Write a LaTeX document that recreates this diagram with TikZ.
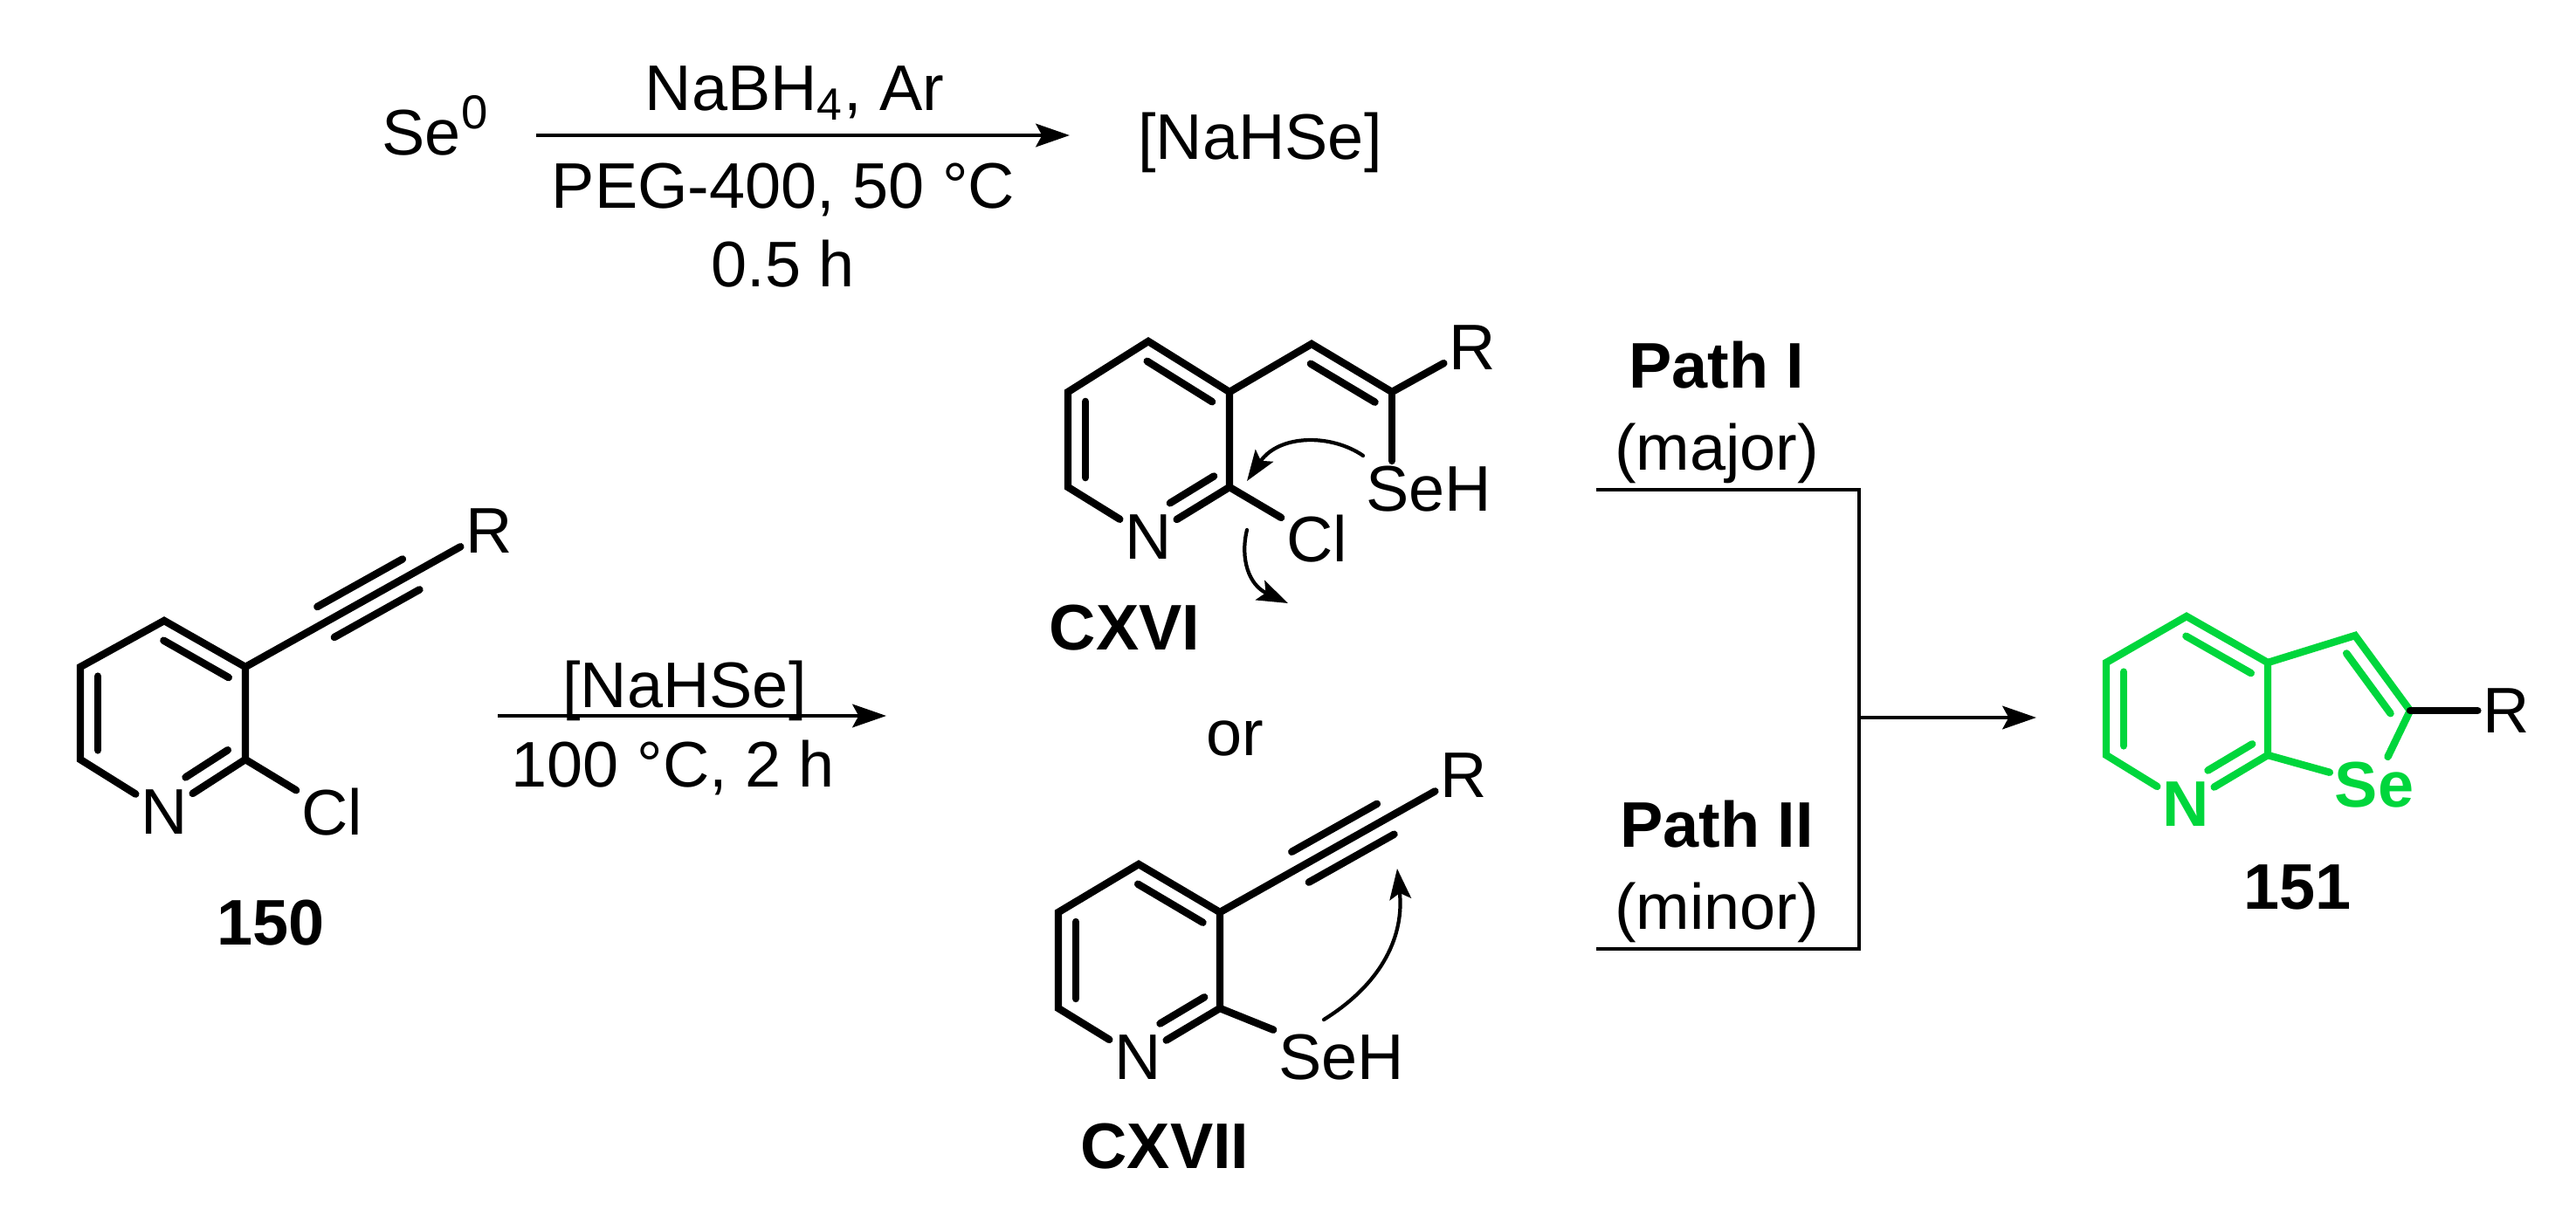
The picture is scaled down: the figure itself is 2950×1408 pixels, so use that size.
\documentclass[tikz,border=0pt]{standalone}
\usepackage{fontspec}
\setmainfont{Liberation Sans}
\usetikzlibrary{calc,arrows.meta}
\definecolor{prodgreen}{RGB}{0,214,60}
\newcommand{\innerbond}[5][black]{\draw[bond,#1] ($(#2)!#4!(#3)!0.2cm!90:(#3)$) -- ($(#2)!#5!(#3)!0.2cm!90:(#3)$);}
\newcommand{\alkyne}[2]{
	\draw[bond] ($(#1)!0.33!(#2)!0.2cm!90:(#2)$) -- ($(#1)!0.68!(#2)!0.2cm!90:(#2)$);
	\draw[bond] ($(#1)!0.33!(#2)!0.2cm!-90:(#2)$) -- ($(#1)!0.68!(#2)!0.2cm!-90:(#2)$);}
\begin{document}
\begin{tikzpicture}[
		x=0.01cm, y=-0.01cm,
		txt/.style={inner sep=0pt, font=\fontsize{21}{25}\selectfont},
		boldtxt/.style={inner sep=0pt, font=\fontsize{21}{25}\selectfont\bfseries},
		atom/.style={txt, inner sep=1.5pt},
		bond/.style={line width=2.4pt, line cap=round, line join=miter},
		rxnline/.style={line width=1.4pt},
		rxnarrow/.style={rxnline, -{Stealth[length=11pt,width=7.5pt,inset=2pt]}},
		pusharrow/.style={line width=1.2pt, line cap=round, -{Stealth[length=10pt,width=7pt,inset=2pt]}}
		]
		\useasboundingbox (0,0) rectangle (2950,1408);

		% reagent step
		\node[txt](se0) at (498,144){Se\raisebox{8.5pt}{\fontsize{15.5}{18}\selectfont 0}};
		\node[txt](hse) at (1443,163){[NaHSe]};
		\node[txt](nabh) at (910,107){NaBH\textsubscript{4}, Ar};
		\node[txt, below of = nabh, xshift = -0.13cm, yshift = -0.1cm](peg){PEG-400, 50 °C};
		\node[txt, below of = peg, yshift = 0.15cm](time){0.5 h};
		\coordinate (a1) at (614,155);
		\coordinate (a2) at (1225,155);
		\draw[rxnarrow] (a1) -- (a2);

		% 150
		\coordinate (t150) at (188,711);
		\coordinate (ur150) at (281,764);
		\coordinate (lr150) at (281,870);
		\coordinate (ll150) at (92,870);
		\coordinate (ul150) at (92,764);
		\node[atom](N150) at (188,930){N};
		\node[atom](Cl150) at (380,930){Cl};
		\node[atom](R150) at (560,608){R};
		\draw[bond] (N150) -- (ll150) -- (ul150) -- (t150) -- (ur150) -- (lr150) -- (N150);
		\draw[bond] (lr150) -- (Cl150);
		\draw[bond] (ur150) -- (R150);
		\alkyne{ur150}{R150}
		\innerbond{ul150}{ll150}{0.1}{0.9}
		\innerbond{ur150}{t150}{0.1}{0.9}
		\innerbond{N150}{lr150}{0.38}{0.9}
		\node[boldtxt](lab150) at (310,1057){150};

		\coordinate (b1) at (570,820);
		\coordinate (b2) at (1015,820);
		\draw[rxnarrow] (b1) -- (b2);
		\node[txt](hse2) at (784,791){[NaHSe]};
		\node[txt, below of = hse2, xshift = -0.13cm, yshift = 0.12cm](cond){100 °C, 2 h};

		% CXVI
		\coordinate (t116) at (1315,391);
		\coordinate (ur116) at (1408,449);
		\coordinate (lr116) at (1408,558);
		\coordinate (ll116) at (1223,558);
		\coordinate (ul116) at (1223,449);
		\coordinate (ch116) at (1502,394);
		\coordinate (c116) at (1594,449);
		\node[atom](N116) at (1315,615){N};
		\node[atom](Cl116) at (1508,617){Cl};
		\node[atom](Se116) at (1636,560){SeH};
		\node[atom](R116) at (1686,398){R};
		\draw[bond] (N116) -- (ll116) -- (ul116) -- (t116) -- (ur116) -- (lr116) -- (N116);
		\draw[bond] (lr116) -- (Cl116);
		\draw[bond] (ur116) -- (ch116) -- (c116) -- (R116);
		\draw[bond] (c116) -- (c116 |- Se116.north);
		\innerbond{ul116}{ll116}{0.1}{0.9}
		\innerbond{ur116}{t116}{0.1}{0.9}
		\innerbond{N116}{lr116}{0.38}{0.92}
		\innerbond{c116}{ch116}{0.1}{0.9}
		\coordinate (p1) at (1561,522);
		\coordinate (p2) at (1428,551);
		\coordinate (p3) at (1428,607);
		\coordinate (p4) at (1475,691);
		\draw[pusharrow] (p1) .. controls (1525,497) and (1465,497) .. (p2);
		\draw[pusharrow] (p3) .. controls (1420,640) and (1430,670) .. (p4);
		\node[boldtxt](lab116) at (1288,719){CXVI};

		\node[txt](or) at (1414,846){or};

		% CXVII
		\coordinate (t117) at (1304,990);
		\coordinate (ur117) at (1397,1045);
		\coordinate (lr117) at (1397,1155);
		\coordinate (ll117) at (1212,1155);
		\coordinate (ul117) at (1212,1045);
		\node[atom](N117) at (1303,1211){N};
		\node[atom](Se117) at (1536,1211){SeH};
		\node[atom](R117) at (1676,888){R};
		\draw[bond] (N117) -- (ll117) -- (ul117) -- (t117) -- (ur117) -- (lr117) -- (N117);
		\draw[bond] (lr117) -- (Se117);
		\draw[bond] (ur117) -- (R117);
		\alkyne{ur117}{R117}
		\innerbond{ul117}{ll117}{0.1}{0.9}
		\innerbond{ur117}{t117}{0.1}{0.9}
		\innerbond{N117}{lr117}{0.38}{0.92}
		\coordinate (p5) at (1516,1168);
		\coordinate (p6) at (1600,995);
		\draw[pusharrow] (p5) .. controls (1585,1125) and (1608,1070) .. (p6);
		\node[boldtxt](lab117) at (1334,1313){CXVII};

		% paths
		\node[boldtxt](pathI) at (1966,418){Path I};
		\node[txt, below of = pathI, yshift = -0.01cm](major){(major)};
		\node[boldtxt](pathII) at (1966,944){Path II};
		\node[txt, below of = pathII, yshift = -0.01cm](minor){(minor)};
		\coordinate (l1) at (1828,561);
		\coordinate (l2) at (2129,561);
		\coordinate (l3) at (2129,1087);
		\coordinate (l4) at (1828,1087);
		\coordinate (j1) at (2129,822);
		\coordinate (j2) at (2332,822);
		\draw[rxnline] (l1) -- (l2) -- (l3) -- (l4);
		\draw[rxnarrow] (j1) -- (j2);

		% 151
		\coordinate (t151) at (2504,706);
		\coordinate (ur151) at (2597,759);
		\coordinate (lr151) at (2597,865);
		\coordinate (ll151) at (2412,865);
		\coordinate (ul151) at (2412,759);
		\coordinate (ch151) at (2697,728);
		\coordinate (c151) at (2760,814);
		\node[atom, boldtxt, inner sep=1.5pt, text=prodgreen](N151) at (2503,921){N};
		\node[atom, boldtxt, inner sep=1.5pt, text=prodgreen](Se151) at (2719,899){Se};
		\node[atom](R151) at (2870,814){R};
		\draw[bond, prodgreen] (N151) -- (ll151) -- (ul151) -- (t151) -- (ur151) -- (lr151) -- (N151);
		\draw[bond, prodgreen] (lr151) -- (Se151) -- (c151) -- (ch151) -- (ur151);
		\innerbond[prodgreen]{ul151}{ll151}{0.1}{0.9}
		\innerbond[prodgreen]{ur151}{t151}{0.1}{0.9}
		\innerbond[prodgreen]{N151}{lr151}{0.38}{0.92}
		\innerbond[prodgreen]{c151}{ch151}{0.1}{0.9}
		\draw[bond] (c151) -- (R151);
		\node[boldtxt](lab151) at (2631,1016){151};
	\end{tikzpicture}
\end{document}
